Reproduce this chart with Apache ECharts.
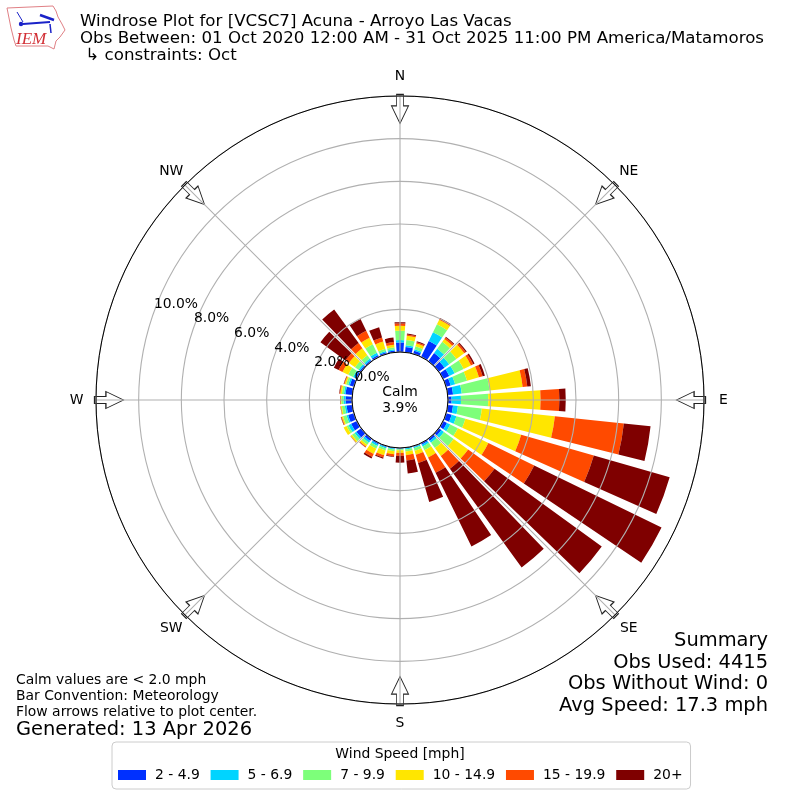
<!DOCTYPE html>
<html><head><meta charset="utf-8">
<style>html,body{margin:0;padding:0;background:#fff}#c{width:800px;height:800px}</style>
<script src="https://cdn.jsdelivr.net/npm/echarts@6/dist/echarts.min.js"></script>
</head><body><div id="c"></div>
<script>
const directions = ['0','10','20','30','40','50','60','70','80','90','100','110','120','130','140','150','160','170','180','190','200','210','220','230','240','250','260','270','280','290','300','310','320','330','340','350'];
const compass = ['N','NE','E','SE','S','SW','W','NW'];
const compassAngles = [0,45,90,135,180,225,270,315];
const radialTicks = [0,2,4,6,8,10];
const speedNames = ['2 - 4.9','5 - 6.9','7 - 9.9','10 - 14.9','15 - 19.9','20+'];
const speedColors = ['#0030ff','#00d4ff','#7dff7a','#ffe600','#ff4a00','#7f0000'];
const s2to5 = [.45,.25,.15,.83,.47,.33,.32,.22,.25,.17,.25,.27,.2,.15,.12,.08,.04,.03,.03,.04,.05,.07,.13,.28,.3,.28,.27,.3,.32,.2,.1,.08,.07,.1,.08,.08];
const s5to7 = [.11,.08,.08,.45,.25,.27,.28,.22,.41,.44,.23,.23,.17,.15,.1,.09,.06,.05,.03,.04,.06,.08,.1,.1,.14,.08,.08,.1,.07,.08,.1,.08,.08,.12,.06,.06];
const s7to10 = [.44,.25,.14,.42,.4,.42,.47,.58,1.31,1.28,1.13,.44,.4,.56,.31,.2,.12,.1,.05,.08,.1,.14,.12,.15,.1,.17,.14,.1,.1,.1,.25,.2,.2,.44,.11,.1];
const s10to15 = [.23,.2,.14,.24,.16,.45,.38,.58,1.56,2.45,3.44,2.72,1.59,.84,.47,.38,.2,.17,.12,.15,.23,.27,.1,.08,.15,.06,.05,.03,.07,.07,.3,.35,.4,.34,.35,.12];
const s15to20 = [.11,.06,.06,.05,.09,.09,.12,.18,.22,.88,3.25,3.54,2.39,1.53,.73,.8,.4,.25,.14,.1,.12,.16,.04,.01,0,.03,.01,.02,.04,.03,.2,.2,.3,.36,.2,.12];
const s20plus = [.06,.04,.04,.04,.04,.06,.07,.11,.17,.3,1.26,3.7,6.64,6.21,5.72,3.84,1.9,.62,.32,.03,.05,.08,.01,.01,0,.02,.01,.01,.02,.02,.25,1.45,1.95,.61,.5,.21];
const speedSeries = [s2to5,s5to7,s7to10,s10to15,s15to20,s20plus];
const titleLines = ['Windrose Plot for [VCSC7] Acuna - Arroyo Las Vacas','Obs Between: 01 Oct 2020 12:00 AM - 31 Oct 2025 11:00 PM America/Matamoros',' ↳ constraints: Oct'];
const summaryLines = ['Summary','Obs Used: 4415','Obs Without Wind: 0','Avg Speed: 17.3 mph'];
const noteLines = ['Calm values are < 2.0 mph','Bar Convention: Meteorology','Flow arrows relative to plot center.'];
const FONT = '"DejaVu Sans"';
const ARROW = 'path://M-3.5 0L3.5 0L3.5 11L8.5 11L0 28L-8.5 11L-3.5 11Z';
const polarPos = {center:[400,400], radius:[48,304]};
const text = (x,y,t,size,align,color) => ({type:'text',z:20,style:{x,y,text:t,font:size+'px '+FONT,fill:color||'#000',align:align||'left',verticalAlign:'middle'}});
const chart = echarts.init(document.getElementById('c'),null,{renderer:'canvas'});
const barSeries = speedNames.map((name,i)=>({
  name, type:'bar', coordinateSystem:'polar', polarIndex:0, stack:'wind', z:2,
  barWidth:'80%', itemStyle:{color:speedColors[i]}, data:speedSeries[i], animation:false
}));
const hiddenAxis = {axisLine:{show:false},axisTick:{show:false},axisLabel:{show:false},splitLine:{show:false}};
chart.setOption({
  animation:false, backgroundColor:'#fff',
  textStyle:{fontFamily:FONT},
  polar:[polarPos, polarPos, {center:[400,400], radius:[0,323.5]}],
  angleAxis:[
    {polarIndex:0,type:'category',data:directions,startAngle:95,clockwise:true,boundaryGap:true,z:0,...hiddenAxis},
    {polarIndex:1,type:'value',min:0,max:360,interval:45,startAngle:90,clockwise:true,z:3,
     axisLine:{show:true,lineStyle:{color:'#000',width:1}},axisTick:{show:false},
     axisLabel:{show:false},
     splitLine:{show:true,lineStyle:{color:'#b0b0b0',width:1.1}}},
    {polarIndex:2,type:'value',min:0,max:360,interval:45,startAngle:90,clockwise:true,z:0,...hiddenAxis}
  ],
  radiusAxis:[
    {polarIndex:0,type:'value',min:0,max:12,interval:2,z:0,...hiddenAxis},
    {polarIndex:1,type:'value',min:0,max:12,interval:2,axisLine:{show:false},axisTick:{show:false},axisLabel:{show:false},z:3,
     splitLine:{show:true,lineStyle:{color:'#b0b0b0',width:1.1}}},
    {polarIndex:2,type:'value',min:0,max:1,z:0,...hiddenAxis}
  ],
  legend:{
    data:speedNames,left:112,top:742,orient:'horizontal',icon:'rect',
    itemWidth:28,itemHeight:10,itemGap:10.8,padding:[26,8,7,6],
    backgroundColor:'#fff',borderColor:'#cccccc',borderWidth:1,borderRadius:4,
    textStyle:{fontSize:13.9,color:'#000',fontFamily:FONT,padding:[0,0,0,4]},selectedMode:false
  },
  series:[
    ...barSeries,
    {name:'arrows',type:'scatter',coordinateSystem:'polar',polarIndex:1,z:2,silent:true,
     symbol:ARROW,symbolSize:[17,29],
     itemStyle:{color:'#fff',borderColor:'#222',borderWidth:1,opacity:1},
     data:compassAngles.map(a=>({value:[11.39,a],symbolRotate:-a}))},
    {name:'compassLabels',type:'scatter',coordinateSystem:'polar',polarIndex:2,z:6,silent:true,
     symbolSize:1,itemStyle:{color:'transparent',opacity:1},
     label:{show:true,position:'inside',color:'#000',fontSize:13.9,fontFamily:FONT,formatter:p=>p.name},
     data:compass.map((c,i)=>({name:c,value:[1,compassAngles[i]]}))},
    {name:'rlabels',type:'scatter',coordinateSystem:'polar',polarIndex:0,z:6,silent:true,
     symbolSize:1,itemStyle:{color:'transparent',opacity:1},
     label:{show:true,position:'right',distance:0,offset:[-1,-6.5],color:'#000',fontSize:13.9,fontFamily:FONT,
       formatter:p=>p.value[0].toFixed(1)+'%'},
     data:radialTicks.map(v=>[v,'290'])}
  ],
  graphic:[
    ...titleLines.map((t,i)=>text(80,22+i*16.7,t,16.67)),
    text(400,392,'Calm',13.9,'center'),
    text(400,408,'3.9%',13.9,'center'),
    ...summaryLines.map((t,i)=>text(768,641+i*21.7,t,19.44,'right')),
    ...noteLines.map((t,i)=>text(16,680.5+i*16,t,13.9)),
    text(16,730,'Generated: 13 Apr 2026',19.44),
    text(400,754,'Wind Speed [mph]',13.9,'center'),
    {type:'polygon',z:20,shape:{points:[[7,8],[53,6],[56,11],[58,17],[62,24],[65,30],[60,37],[56,41],[54,49],[48,46],[16,46],[14,40],[11,28],[9,18]]},style:{fill:'#fff',stroke:'#e08085',lineWidth:1}},
    {type:'line',z:21,shape:{x1:23,y1:24,x2:50,y2:22},style:{stroke:'#1a22c8',lineWidth:2}},
    {type:'line',z:21,shape:{x1:17,y1:12,x2:23,y2:22},style:{stroke:'#1a22c8',lineWidth:1}},
    {type:'line',z:21,shape:{x1:40,y1:15,x2:54,y2:20},style:{stroke:'#1a22c8',lineWidth:2.5}},
    {type:'line',z:21,shape:{x1:50,y1:24,x2:51,y2:33},style:{stroke:'#1a22c8',lineWidth:1.5}},
    {type:'circle',z:21,shape:{cx:21,cy:24,r:2.2},style:{fill:'#1a22c8'}},
    {type:'text',z:21,style:{x:16,y:31,text:'IEM',font:'italic 17px "Liberation Serif"',fill:'#d22f35'}}
  ]
});
</script></body></html>
